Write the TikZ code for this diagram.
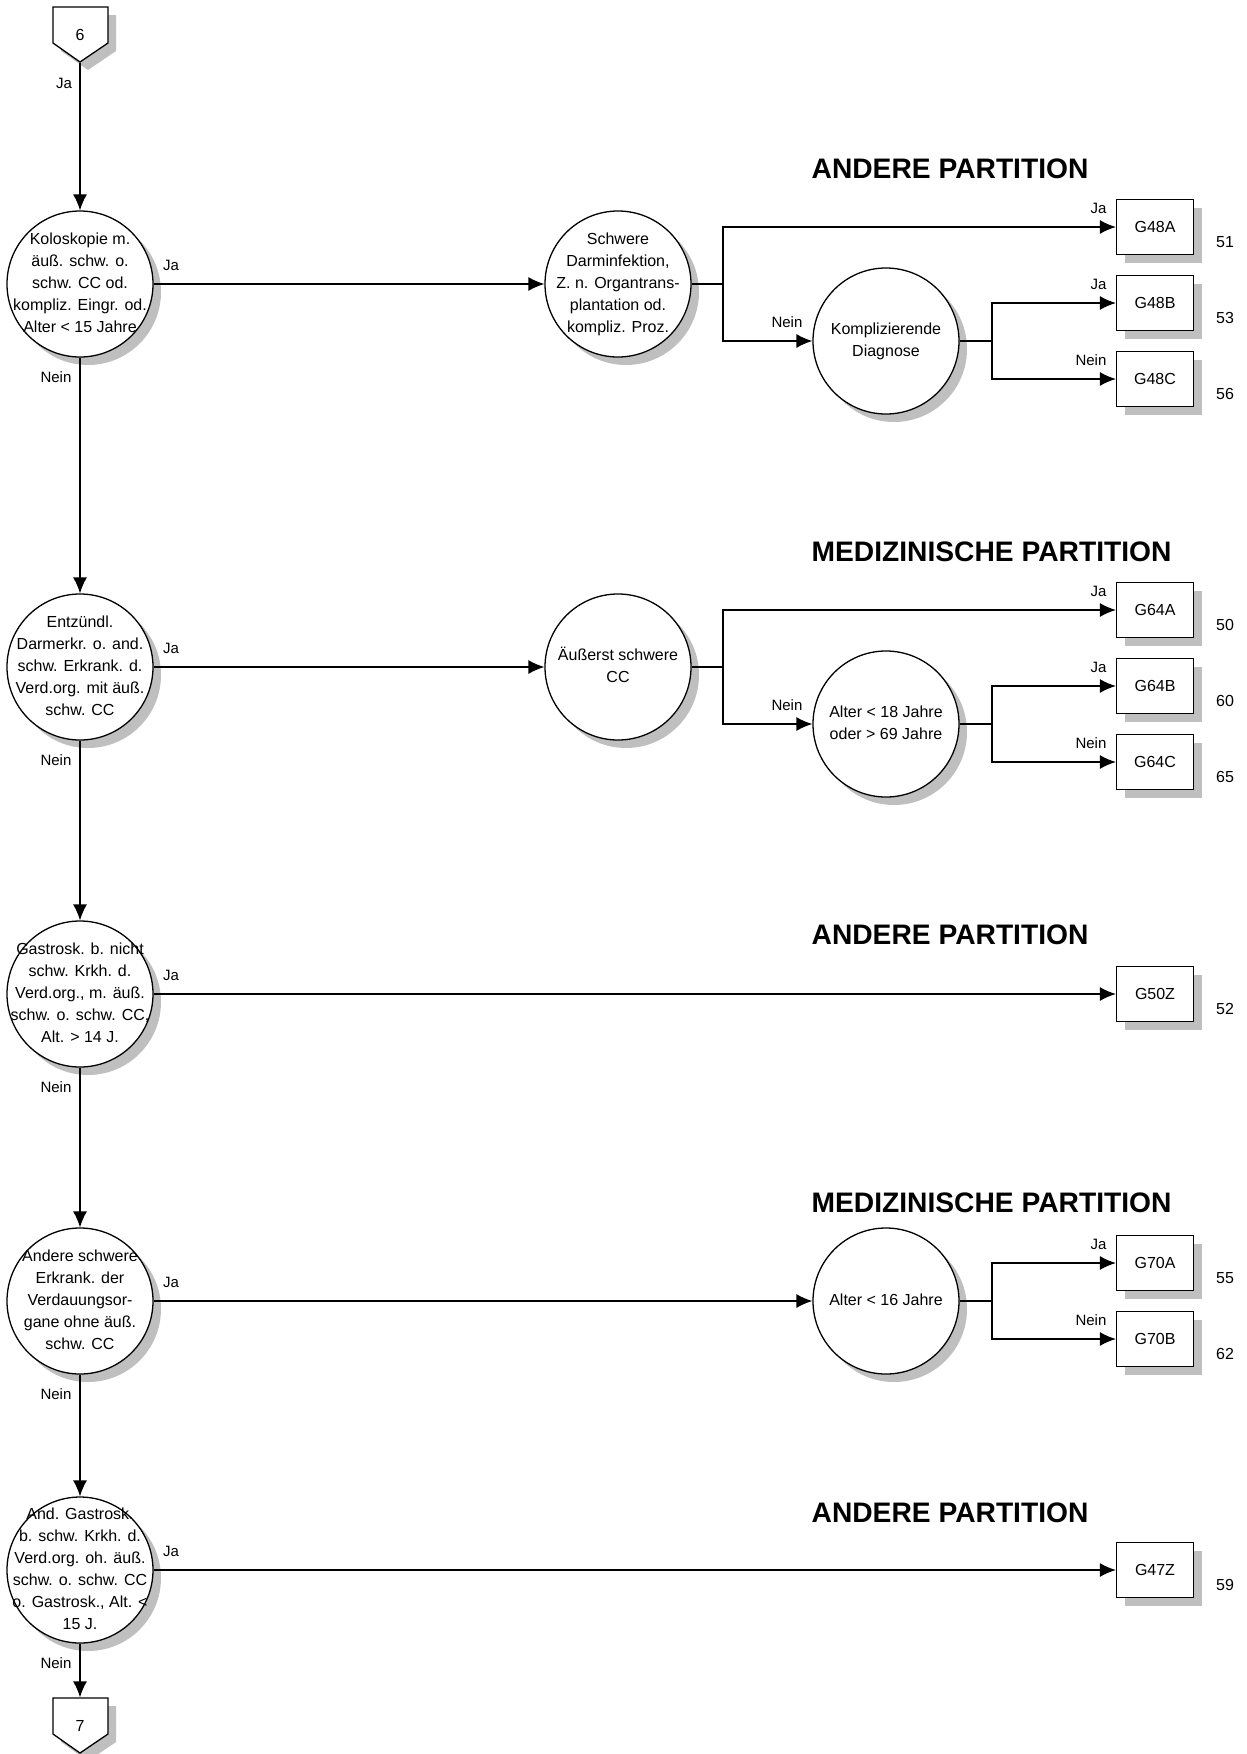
\documentclass[tikz,border=0pt]{standalone}
\usepackage{fontspec}
\setmainfont{Liberation Sans}
\usetikzlibrary{arrows.meta,shadows}

\newcommand{\kreistext}[1]{\smash{\makebox[0pt]{\raisebox{-4pt}{\begin{tabular}{@{}c@{}}#1\end{tabular}}}}}

\begin{document}
\begin{tikzpicture}[x=1pt,y=-1pt,->,>={Latex[length=16pt,width=14pt]},line width=1.3pt,
    schatten/.style={drop shadow={shadow xshift=8pt,shadow yshift=-8pt,fill=black!25,opacity=1}},
    frage/.style={circle,draw,fill=white,minimum size=146pt,inner sep=0pt,font=\fontsize{16}{22}\selectfont,schatten},
    drg/.style={rectangle,draw,fill=white,minimum width=77pt,minimum height=55pt,inner sep=0pt,font=\fontsize{16}{19}\selectfont,schatten},
    anschluss/.style={rectangle,minimum width=55pt,minimum height=55pt,inner sep=0pt,font=\fontsize{16}{19}\selectfont},
    form/.style={-,draw,fill=white,schatten},
    titel/.style={anchor=west,inner sep=0pt,font=\fontsize{28.2}{34}\selectfont\bfseries},
    lbl/.style={inner sep=0pt,font=\fontsize{15}{18}\selectfont},
    nummer/.style={inner sep=0pt,font=\fontsize{16}{19}\selectfont}]
  \useasboundingbox (0,0) rectangle (1247,1754);

  % Seitenverbinder
  \path[form] (53,7) -- (108,7) -- (108,43) -- (80,62) -- (53,43) -- cycle;
  \path[form] (53,1698) -- (108,1698) -- (108,1734) -- (80,1753) -- (53,1734) -- cycle;

  % Hauptspalte
  \node[anschluss] (k6) at (80,34.5) {6};
  \node[frage] (c1) at (80,284) {\kreistext{Koloskopie m.\\äuß. schw. o.\\schw. CC od.\\kompliz. Eingr. od.\\Alter < 15 Jahre}};
  \node[frage] (c2) at (80,667) {\kreistext{Entzündl.\\Darmerkr. o. and.\\schw. Erkrank. d.\\Verd.org. mit äuß.\\schw. CC}};
  \node[frage] (c3) at (80,994) {\kreistext{Gastrosk. b. nicht\\schw. Krkh. d.\\Verd.org., m. äuß.\\schw. o. schw. CC,\\Alt. > 14 J.}};
  \node[frage] (c4) at (80,1301) {\kreistext{Andere schwere\\Erkrank. der\\Verdauungsor-\\gane ohne äuß.\\schw. CC}};
  \node[frage] (c5) at (80,1570) {\kreistext{And. Gastrosk.\\b. schw. Krkh. d.\\Verd.org. oh. äuß.\\schw. o. schw. CC\\o. Gastrosk., Alt. <\\15 J.}};
  \node[anschluss] (k7) at (80,1725.5) {7};

  % Zeile 1
  \node[titel] (t1) at (811,169) {ANDERE PARTITION};
  \node[frage] (r1a) at (618,284) {\kreistext{Schwere\\Darminfektion,\\Z. n. Organtrans-\\plantation od.\\kompliz. Proz.}};
  \node[frage] (r1b) at (886,341) {\kreistext{Komplizierende\\Diagnose}};
  \node[drg] (g48a) at (1155,227) {G48A};
  \node[drg] (g48b) at (1155,303) {G48B};
  \node[drg] (g48c) at (1155,379) {G48C};
  \node[nummer] (n48a) at (1225,242) {51};
  \node[nummer] (n48b) at (1225,318) {53};
  \node[nummer] (n48c) at (1225,394) {56};
  \coordinate (j1) at (723,284);
  \coordinate (j1b) at (992,341);

  % Zeile 2
  \node[titel] (t2) at (811,552) {MEDIZINISCHE PARTITION};
  \node[frage] (r2a) at (618,667) {\kreistext{Äußerst schwere\\CC}};
  \node[frage] (r2b) at (886,724) {\kreistext{Alter < 18 Jahre\\oder > 69 Jahre}};
  \node[drg] (g64a) at (1155,610) {G64A};
  \node[drg] (g64b) at (1155,686) {G64B};
  \node[drg] (g64c) at (1155,762) {G64C};
  \node[nummer] (n64a) at (1225,625) {50};
  \node[nummer] (n64b) at (1225,701) {60};
  \node[nummer] (n64c) at (1225,777) {65};
  \coordinate (j2) at (723,667);
  \coordinate (j2b) at (992,724);

  % Zeile 3
  \node[titel] (t3) at (811,935) {ANDERE PARTITION};
  \node[drg] (g50z) at (1155,994) {G50Z};
  \node[nummer] (n50z) at (1225,1009) {52};

  % Zeile 4
  \node[titel] (t4) at (811,1203) {MEDIZINISCHE PARTITION};
  \node[frage] (r4) at (886,1301) {\kreistext{Alter < 16 Jahre}};
  \node[drg] (g70a) at (1155,1263) {G70A};
  \node[drg] (g70b) at (1155,1339) {G70B};
  \node[nummer] (n70a) at (1225,1278) {55};
  \node[nummer] (n70b) at (1225,1354) {62};
  \coordinate (j4) at (992,1301);

  % Zeile 5
  \node[titel] (t5) at (811,1513) {ANDERE PARTITION};
  \node[drg] (g47z) at (1155,1570) {G47Z};
  \node[nummer] (n47z) at (1225,1585) {59};

  % Beschriftungen
  \node[lbl] (ja0) at (64,83) {Ja};
  \node[lbl] (ja1) at (171,265) {Ja};
  \node[lbl] (ja2) at (171,648) {Ja};
  \node[lbl] (ja3) at (171,975) {Ja};
  \node[lbl] (ja4) at (171,1282) {Ja};
  \node[lbl] (ja5) at (171,1551) {Ja};
  \node[lbl] (nein1) at (56,377) {Nein};
  \node[lbl] (nein2) at (56,760) {Nein};
  \node[lbl] (nein3) at (56,1087) {Nein};
  \node[lbl] (nein4) at (56,1394) {Nein};
  \node[lbl] (nein5) at (56,1663) {Nein};
  \node[lbl,anchor=east] (la48a) at (1107,208) {Ja};
  \node[lbl,anchor=east] (la48b) at (1107,284) {Ja};
  \node[lbl,anchor=east] (la48c) at (1107,360) {Nein};
  \node[lbl,anchor=east] (la1b) at (803,322) {Nein};
  \node[lbl,anchor=east] (la64a) at (1107,591) {Ja};
  \node[lbl,anchor=east] (la64b) at (1107,667) {Ja};
  \node[lbl,anchor=east] (la64c) at (1107,743) {Nein};
  \node[lbl,anchor=east] (la2b) at (803,705) {Nein};
  \node[lbl,anchor=east] (la70a) at (1107,1244) {Ja};
  \node[lbl,anchor=east] (la70b) at (1107,1320) {Nein};

  % Verbindungen
  \draw (k6) -- (c1);
  \draw (c1) -- (c2);
  \draw (c2) -- (c3);
  \draw (c3) -- (c4);
  \draw (c4) -- (c5);
  \draw (c5) -- (k7);

  \draw (c1) -- (r1a);
  \draw (r1a) -- (j1) |- (g48a);
  \draw (r1a) -- (j1) |- (r1b);
  \draw (r1b) -- (j1b) |- (g48b);
  \draw (r1b) -- (j1b) |- (g48c);

  \draw (c2) -- (r2a);
  \draw (r2a) -- (j2) |- (g64a);
  \draw (r2a) -- (j2) |- (r2b);
  \draw (r2b) -- (j2b) |- (g64b);
  \draw (r2b) -- (j2b) |- (g64c);

  \draw (c3) -- (g50z);

  \draw (c4) -- (r4);
  \draw (r4) -- (j4) |- (g70a);
  \draw (r4) -- (j4) |- (g70b);

  \draw (c5) -- (g47z);
\end{tikzpicture}
\end{document}
